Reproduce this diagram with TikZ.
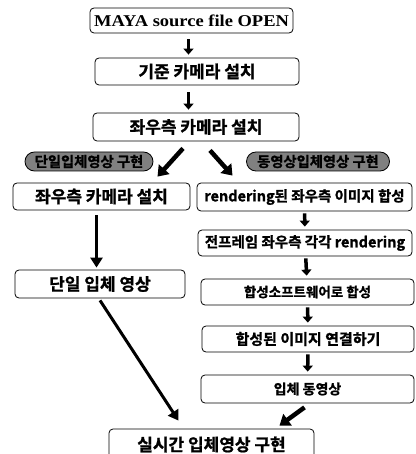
\documentclass[tikz,border=0pt]{standalone}
\usepackage{fontspec}
\newfontfamily\kofont{Noto Sans CJK KR}[BoldFont={Noto Sans CJK KR Bold},
  BoldFeatures={FakeBold=1.2}]
\newfontfamily\mayafont{Liberation Serif}[BoldFeatures={FakeStretch=1.12}]
\usepackage{tikz}
\usetikzlibrary{arrows.meta}
\usetikzlibrary{positioning}
\usetikzlibrary{calc}
\tikzset{
  fc_node/.style = {align=center, inner sep=0pt, text centered,
    font=\kofont\bfseries\fontsize{17pt}{17pt}\selectfont},
  fc_box/.style = {fc_node, rectangle, rounded corners=4pt, draw=black,
    line width=0.8pt},% 흐름도 상자
  fc_rbox/.style = {fc_box,
    font=\kofont\bfseries\fontsize{13.5pt}{13.5pt}\selectfont},% 오른쪽 줄 상자
  fc_pill/.style = {fc_node, rectangle, rounded corners=9.5pt, draw=black,
    fill=black!50, line width=0.8pt,
    font=\kofont\bfseries\fontsize{14.3pt}{14.3pt}\selectfont},% 회색 제목
  fc_arr/.style = {line width=3.5pt, -{Triangle[width=10pt,length=6pt]}},
  fc_big/.style = {line width=4.5pt, -{Triangle[width=14pt,length=10pt]}},
  fc_long/.style = {line width=2.5pt, -{Triangle[width=12pt,length=10pt]}}
}

\begin{document}
\begin{tikzpicture}[x=1pt,y=-1pt]
\useasboundingbox (0,0) rectangle (415,454);

\node [fc_box, minimum width=203pt, minimum height=25pt,
  font=\mayafont\bfseries\fontsize{16.5pt}{16.5pt}\selectfont]
  (maya) at (191.5,20.5) {MAYA source file OPEN};
\node [fc_box, minimum width=204pt, minimum height=27pt] (base) at (197,71.5) {기준 카메라 설치};
\node [fc_box, minimum width=206pt, minimum height=28pt] (both) at (196,127) {좌우측 카메라 설치};

\node [fc_pill, minimum width=128pt, minimum height=19pt] (pillL) at (89,161.5) {단일입체영상 구현};
\node [fc_pill, minimum width=143pt, minimum height=19pt] (pillR) at (318,161.5) {동영상입체영상 구현};

% 왼쪽 줄
\node [fc_box, minimum width=177pt, minimum height=27pt] (leftA) at (101.5,196.5) {좌우측 카메라 설치};
\node [fc_box, minimum width=170pt, minimum height=28pt] (leftB) at (100,284) {단일 입체 영상};

% 오른쪽 줄
\node [fc_rbox, minimum width=215pt, minimum height=28pt,
  font=\kofont\bfseries\fontsize{14.5pt}{14.5pt}\selectfont] (r1) at (304.5,197) {rendering된 좌우측 이미지 합성};
\node [fc_rbox, minimum width=214pt, minimum height=26pt,
  font=\kofont\bfseries\fontsize{14.5pt}{14.5pt}\selectfont] (r2) at (305,243) {전프레임 좌우측 각각 rendering};
\node [fc_rbox, minimum width=213pt, minimum height=26pt] (r3) at (307.5,292) {합성소프트웨어로 합성};
\node [fc_rbox, minimum width=212pt, minimum height=26pt,
  font=\kofont\bfseries\fontsize{15pt}{15pt}\selectfont] (r4) at (308,339) {합성된 이미지 연결하기};
\node [fc_rbox, minimum width=213pt, minimum height=28pt,
  font=\kofont\bfseries\fontsize{14pt}{14pt}\selectfont] (r5) at (307.5,389) {입체 동영상};

\node [fc_box, minimum width=205pt, minimum height=31pt] (real) at (211.5,444.5) {실시간 입체영상 구현};

\draw[fc_arr, shorten <=6pt, shorten >=3pt] ([xshift=-3pt]maya.south) -- ([xshift=-3pt]maya.south |- base.north);
\draw[fc_arr, shorten <=7pt, shorten >=3pt] ([xshift=-3pt]maya.south |- base.south) -- ([xshift=-3pt]maya.south |- both.north);
\draw[fc_big] ([shift={(-13,7)}]both.south) -- ([shift={(56,-6)}]leftA.north);
\draw[fc_big] ([shift={(14,9)}]both.south) -- ([shift={(-72,-7)}]r1.north);
\draw[fc_long, shorten <=5pt, shorten >=2pt] ([xshift=-5pt]leftA.south) -- ([xshift=-5pt]leftA.south |- leftB.north);
\draw[fc_arr, shorten <=2pt, shorten >=3pt] (r1) -- (r2);
\draw[fc_arr, shorten <=2pt, shorten >=3pt] (r2) -- (r3);
\draw[fc_arr, shorten <=2pt, shorten >=3pt] (r3) -- (r4);
\draw[fc_arr, shorten <=2pt, shorten >=3pt] (r4) -- (r5);
\draw[fc_long, line width=3pt] ([shift={(0,2)}]leftB.south) -- ([shift={(-33,-8)}]real.north);
\draw[fc_big] ([shift={(-3,4)}]r5.south) -- ([shift={(68,-3)}]real.north);
\end{tikzpicture}
\end{document}
